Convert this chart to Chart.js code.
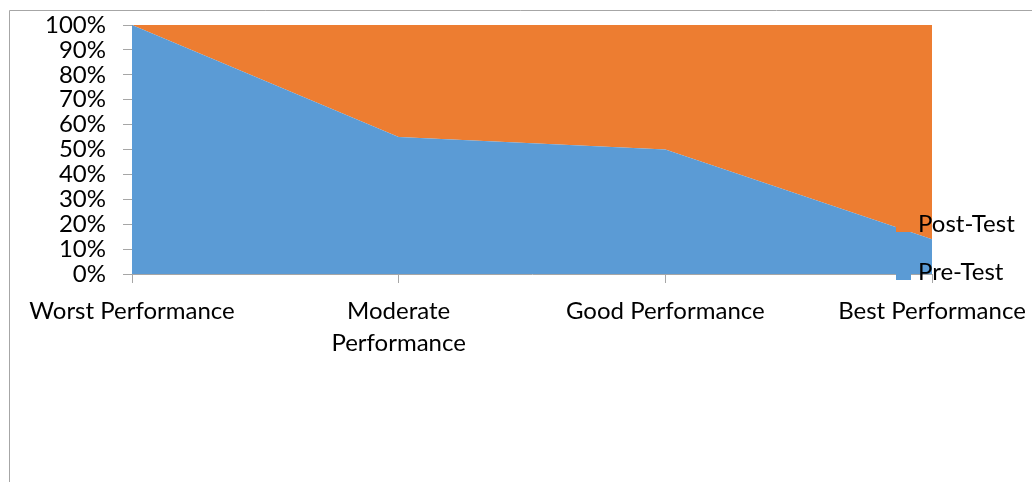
<!DOCTYPE html>
<html>
<head>
<meta charset="utf-8">
<title>Pre-Test vs Post-Test</title>
<script src="https://cdn.jsdelivr.net/npm/chart.js@4"></script>
<style>
    html, body { margin: 0; padding: 0; background: #ffffff; }
    canvas { display: block; }
</style>
</head>
<body>
<canvas id="perfChart" width="1032" height="482"></canvas>
<script>
// Chart data (percent of each category)
const categories = ['Worst Performance', ['Moderate', 'Performance'], 'Good Performance', 'Best Performance'];
const preTest = [100, 55, 50, 14];
const postTest = [0, 45, 50, 86];
const yTicks = [0, 10, 20, 30, 40, 50, 60, 70, 80, 90, 100];

const FONT = 'Lato, "Open Sans", sans-serif';
const BLUE = '#5b9bd5';
const ORANGE = '#ed7d31';
const AXIS = '#a6a6a6';

// Outer chart frame (only left and top edges are visible)
const framePlugin = {
    id: 'frame',
    beforeDraw(chart) {
        const ctx = chart.ctx;
        ctx.save();
        ctx.strokeStyle = '#a6a6a6';
        ctx.lineWidth = 1;
        ctx.beginPath();
        ctx.moveTo(9.5, chart.height);
        ctx.lineTo(9.5, 10.5);
        ctx.lineTo(chart.width, 10.5);
        ctx.stroke();
        ctx.restore();
    }
};

// Legend drawn over the right edge of the plot, like the original
const overlayLegend = {
    id: 'overlayLegend',
    afterDraw(chart) {
        const { ctx, chartArea } = chart;
        const items = chart.data.datasets.slice().reverse();
        ctx.save();
        ctx.font = '24px ' + FONT;
        ctx.textBaseline = 'middle';
        ctx.textAlign = 'left';
        items.forEach((ds, i) => {
            const cy = chartArea.bottom - 50 + i * 48;
            ctx.fillStyle = ds.backgroundColor;
            ctx.fillRect(chartArea.right - 36, cy - 7, 15, 15);
            ctx.fillStyle = '#000000';
            ctx.fillText(ds.label, chartArea.right - 14, cy);
        });
        ctx.restore();
    }
};

function fixScale(size) {
    return function(scale) {
        if (scale.isHorizontal()) {
            scale.height = size;
        } else {
            scale.width = size;
        }
        scale.paddingLeft = 0;
        scale.paddingRight = 0;
        scale.paddingTop = 0;
        scale.paddingBottom = 0;
    };
}

const ctx = document.getElementById('perfChart').getContext('2d');

new Chart(ctx, {
    type: 'line',
    data: {
        labels: categories,
        datasets: [
            {
                label: 'Pre-Test',
                data: preTest,
                backgroundColor: BLUE,
                borderColor: BLUE,
                borderWidth: 0,
                pointRadius: 0,
                tension: 0,
                fill: 'origin'
            },
            {
                label: 'Post-Test',
                data: postTest,
                backgroundColor: ORANGE,
                borderColor: ORANGE,
                borderWidth: 0,
                pointRadius: 0,
                tension: 0,
                fill: '-1'
            }
        ]
    },
    options: {
        responsive: false,
        animation: false,
        layout: {
            padding: { left: 0, top: 25, right: 100, bottom: 0 }
        },
        plugins: {
            legend: { display: false },
            tooltip: { enabled: false }
        },
        scales: {
            x: {
                offset: false,
                afterFit: fixScale(208),
                grid: {
                    drawOnChartArea: false,
                    drawTicks: true,
                    tickLength: 9,
                    color: AXIS
                },
                border: { color: AXIS, width: 1 },
                ticks: {
                    color: '#000000',
                    maxRotation: 0,
                    autoSkip: false,
                    padding: 13,
                    font: { family: FONT, size: 24, lineHeight: 1.3 }
                }
            },
            y: {
                stacked: true,
                min: 0,
                max: 100,
                afterFit: fixScale(132),
                afterBuildTicks: function(scale) {
                    scale.ticks = yTicks.map(v => ({ value: v }));
                },
                grid: {
                    drawOnChartArea: false,
                    drawTicks: true,
                    tickLength: 9,
                    color: AXIS
                },
                border: { color: AXIS, width: 1 },
                ticks: {
                    color: '#000000',
                    autoSkip: false,
                    padding: 17,
                    font: { family: FONT, size: 24 },
                    callback: function(value) {
                        return value + '%';
                    }
                }
            }
        }
    },
    plugins: [framePlugin, overlayLegend]
});
</script>
</body>
</html>
